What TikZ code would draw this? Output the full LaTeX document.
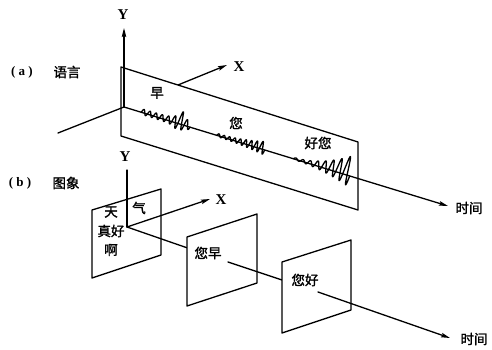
\documentclass[tikz,border=0pt]{standalone}
\usepackage{fontspec}
\setmainfont{Liberation Serif}
\newfontfamily\cjk[FakeBold=1.5]{Noto Sans CJK SC}
\usetikzlibrary{arrows.meta}

\begin{document}
\begin{tikzpicture}[x=1pt, y=-1pt, line cap=round, line join=round,
  axis/.style={line width=\figLineWidth},
  axisarrow/.style={axis, -{Stealth[length=9pt,width=4.5pt,inset=1.5pt]}},
  frame/.style={fill=white, draw=black, line width=\figLineWidth},
  wave/.style={line width=1.3pt},
  cn/.style={font=\fontsize{13.5}{15}\selectfont\cjk, inner sep=1pt},
  latin/.style={font=\fontsize{15}{16}\selectfont\bfseries, inner sep=1pt}]
% picture drawn in pixel units of the 492x350 figure, y pointing down
\providecommand{\figLineWidth}{1.3pt}
\useasboundingbox (0,0) rectangle (492,350);

% ---------- (a) speech: one plane along the time axis ----------
\coordinate (oa) at (124,107);
\coordinate (yatip) at (124,28);
\coordinate (xatip) at (227,65);
\coordinate (zaend) at (58,133);
\coordinate (tatip) at (448,206);
% X axis first, the plane hides its lower part
\draw[axisarrow] (oa) -- (xatip);
\path[frame] (121,67) -- (358,142) -- (358,210) -- (121,136) -- cycle;
\draw[axisarrow] (oa) -- (yatip);
\draw[axis] (zaend) -- (oa);
\draw[axisarrow] (oa) -- (tatip);
% sound waves along the time axis (phase factors = 360/period)
\begin{scope}[shift={(oa)}, rotate=-17, y=1pt]
  \draw[wave] plot[domain=18:69, samples=300]
    (\x, {(2.5+7/(1+(\x-58)*(\x-58)/20))*(sin((\x-18)*56.471)+0.3*(1-cos((\x-18)*56.471)))});
  \draw[wave] plot[domain=97:147, samples=300]
    (\x, {(1.5+5*((\x-97)/50)*((\x-97)/50))*(sin((\x-97)*64.748)+0.3*(1-cos((\x-97)*64.748)))});
  \draw[wave] plot[domain=177:236, samples=300]
    (\x, {(1+14*((\x-177)/59)*((\x-177)/59))*(sin((\x-177)*48.814)+0.4*(1-cos((\x-177)*48.814)))});
\end{scope}
\node[latin] (ya) at (123,15) {Y};
\node[latin] (xa) at (239,67) {X};
\node[cn] (ta) at (469,208) {时间};
\node[cn] (wzao) at (157,93) {早};
\node[cn] (wnin) at (236,123) {您};
\node[cn] (whao) at (318,143) {好您};
\node[latin, font=\fontsize{13}{14}\selectfont\bfseries] (laba) at (22,72) {( a )};
\node[cn] (texta) at (67,72) {语言};

% ---------- (b) image: three frames along the time axis ----------
\coordinate (ob) at (127,227);
\coordinate (ybtop) at (127,170);
\coordinate (xbtip) at (210,199);
\coordinate (obtwo) at (228,262);
\coordinate (obthree) at (318,292);
\coordinate (tbtip) at (450,338);
% first frame, axes lie on top of it
\path[frame] (92,210) -- (161,189) -- (161,255) -- (92,278) -- cycle;
\draw[axis] (ob) -- (ybtop);
\draw[axisarrow] (ob) -- (xbtip);
\draw[axis] (ob) -- (obtwo);
% second frame
\path[frame] (187,237) -- (257,214) -- (257,283) -- (187,306) -- cycle;
\draw[axis] (obtwo) -- (obthree);
% third frame
\path[frame] (282,262) -- (351,240) -- (351,310) -- (282,333) -- cycle;
\draw[axisarrow] (obthree) -- (tbtip);
\node[latin] (yb) at (125,157) {Y};
\node[latin] (xb) at (221,200) {X};
\node[cn] (tb) at (474,339) {时间};
\node[cn] (ftian) at (111,212) {天};
\node[cn] (fqi) at (139,208) {气};
\node[cn] (fzhen) at (111,231) {真好};
\node[cn] (fa) at (111,250) {啊};
\node[cn] (fzao) at (208,253) {您早};
\node[cn] (fhao) at (305,280) {您好};
\node[latin, font=\fontsize{13}{14}\selectfont\bfseries] (labb) at (20,183) {( b )};
\node[cn] (textb) at (66,183) {图象};
\end{tikzpicture}
\end{document}
